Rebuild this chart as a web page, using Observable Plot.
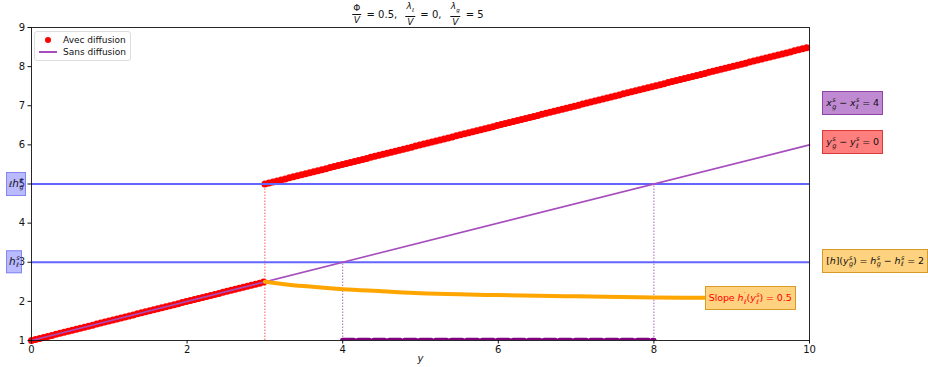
<!DOCTYPE html>
<html>
<head>
<meta charset="utf-8">
<script src="https://cdn.jsdelivr.net/npm/d3@7"></script>
<script src="https://cdn.jsdelivr.net/npm/@observablehq/plot@0.6"></script>
<style>
  html, body { margin: 0; padding: 0; background: white; }
  #wrap { position: relative; width: 928px; height: 367px; font-family: "DejaVu Sans", sans-serif; }
  .ov { position: absolute; white-space: nowrap; font-family: "DejaVu Sans", sans-serif; color: #111; }
  .title { font-size: 10px; transform: translateX(-50%); display: flex; align-items: center; gap: 0; }
  .frac { display: inline-flex; flex-direction: column; align-items: center; vertical-align: middle; font-size: 9px; line-height: 9px; margin: 0 2px; }
  .frac > span:first-child { border-bottom: 0.8px solid #111; padding: 0 1px 1px 1px; }
  .frac > span:last-child { padding-top: 1px; font-style: italic; }
  .ss { display: inline-flex; flex-direction: column; vertical-align: middle; font-size: 6.5px; line-height: 6.5px; font-style: italic; margin-left: 0.5px; }
  .box { font-size: 9.5px; padding: 4px 3px; border: 1px solid; transform: translateY(-50%); line-height: 13px; letter-spacing: -0.1px; }
  .legend { border: 1px solid #ddd; border-radius: 3px; background: rgba(255,255,255,0.85); font-size: 9px; padding: 2px 4px 2px 4px; line-height: 12px; }
  .legend .row { display: flex; align-items: center; }
  .legend .sw { width: 18px; height: 12px; position: relative; margin-right: 6px; }
</style>
</head>
<body>
<div id="wrap"></div>
<script>
// ---- data ----
const avecY = [0, 3, 3, 10];          // "Avec diffusion" dotted segments (y)
const avecH = [1, 2.5, 5, 8.5];       // heights
const avecSeg = [0, 0, 1, 1];         // segment id

const sansY = [0, 10];                // "Sans diffusion" line
const sansH = [1, 6];

const slopeY = [3, 3.25, 3.5, 4, 4.5, 5, 5.5, 6, 7, 8, 8.65];
const slopeH = [2.5, 2.44, 2.39, 2.31, 2.26, 2.21, 2.18, 2.16, 2.13, 2.10, 2.09];

const hLevels = [3, 5];               // blue horizontal lines

const redVX = [3];  const redVTop = [5];
const purpleVX = [4, 8]; const purpleVTop = [3, 5];

const dashY = [4, 8]; const dashH = [1, 1];

const xTicks = [0, 2, 4, 6, 8, 10];
const yTicks = [1, 2, 3, 4, 5, 6, 7, 8, 9];

const legendLabels = ["Avec diffusion", "Sans diffusion"];

function ss(sup, sub) { return `<span class="ss"><span>${sup}</span><span>${sub}</span></span>`; }
const noteHtml = [
  `<i>x</i>${ss("s","g")} − <i>x</i>${ss("s","ℓ")} = 4`,
  `<i>y</i>${ss("s","g")} − <i>y</i>${ss("s","ℓ")} = 0`,
  `[<i>h</i>](<i>y</i>${ss("s","g")}) = <i>h</i>${ss("s","g")} − <i>h</i>${ss("s","ℓ")} = 2`,
  `Slope <i>h</i>${ss("′","ℓ")}(<i>y</i>${ss("s","ℓ")}) = 0.5`,
  `<i style="font-size:8px">ℓ</i><i>h</i>${ss("s","g")}`,
  `<i>h</i>${ss("s","ℓ")}`
];
const noteX = [10.17, 10.17, 10.17, 8.66, -0.32, -0.32];
const noteH = [7.05, 6.05, 3.03, 2.07, 5, 3];
const noteKind = ["purple", "red", "orange", "slope", "blue", "blue"];

// ---- styles ----
const boxStyle = {
  purple: {bg: "rgba(150,60,180,0.6)", border: "rgba(120,40,150,0.7)", color: "#111"},
  red:    {bg: "rgba(255,40,40,0.6)",  border: "rgba(200,30,30,0.7)",  color: "#111"},
  orange: {bg: "rgba(255,165,0,0.5)",  border: "rgba(200,130,0,0.7)",  color: "#111"},
  slope:  {bg: "rgb(255,210,128)",     border: "rgba(200,130,0,0.7)",  color: "#f00"},
  blue:   {bg: "rgba(90,90,255,0.42)", border: "rgba(80,80,230,0.5)",  color: "#111"}
};

const avec = avecY.map((y, i) => ({y, h: avecH[i], s: avecSeg[i]}));
const sans = sansY.map((y, i) => ({y, h: sansH[i]}));
const slope = slopeY.map((y, i) => ({y, h: slopeH[i]}));
const dash = dashY.map((y, i) => ({y, h: dashH[i]}));

const plot = Plot.plot({
  width: 928, height: 367,
  marginLeft: 31, marginRight: 119, marginTop: 27, marginBottom: 27,
  style: {fontFamily: "DejaVu Sans", fontSize: "10px", background: "white", color: "#111"},
  x: {domain: [0, 10]},
  y: {domain: [1, 9]},
  marks: [
    Plot.ruleX(redVX, {x: d => d, y1: 1, y2: (d, i) => redVTop[i], stroke: "#ff3030", strokeOpacity: 0.8, strokeWidth: 1, strokeDasharray: "1.5,1.5"}),
    Plot.ruleX(purpleVX, {x: d => d, y1: 1, y2: (d, i) => purpleVTop[i], stroke: "#9a40b0", strokeOpacity: 0.8, strokeWidth: 1, strokeDasharray: "1.5,1.5"}),
    Plot.line(avec, {x: "y", y: "h", z: "s", stroke: "red", strokeWidth: 7, strokeDasharray: "0,4.2", strokeLinecap: "round"}),
    Plot.ruleY(hLevels, {stroke: "#6464ff", strokeWidth: 2}),
    Plot.line(sans, {x: "y", y: "h", stroke: "#a64dbd", strokeWidth: 1.6}),
    Plot.line(slope, {x: "y", y: "h", stroke: "#ffa500", strokeWidth: 4, curve: "monotone-x"}),
    Plot.line(dash, {x: "y", y: "h", stroke: "#800080", strokeWidth: 5.5, strokeDasharray: "11,4.5", clip: "frame"}),
    Plot.frame({stroke: "#111", strokeWidth: 0.9}),
    Plot.axisX({ticks: xTicks, tickSize: 3.5, tickPadding: 2, label: null, tickFormat: d => String(d)}),
    Plot.axisY({ticks: yTicks, tickSize: 3.5, tickPadding: 3, label: null}),
    Plot.text(["y"], {text: d => d, frameAnchor: "bottom", dy: 21, fontStyle: "italic", fontSize: 10})
  ]
});

const wrap = document.getElementById("wrap");
wrap.appendChild(plot);
const sx = plot.scale("x"), sy = plot.scale("y");

// title
const title = document.createElement("div");
title.className = "ov title";
title.style.left = sx.apply(5) - 3 + "px";
title.style.top = "2px";
title.innerHTML = `<span class="frac"><span>Φ</span><span>V</span></span>&nbsp;= 0.5,&nbsp;&nbsp;<span class="frac"><span><i>λ<sub style="font-size:5.5px">ℓ</sub></i></span><span>V</span></span>&nbsp;= 0,&nbsp;&nbsp;<span class="frac"><span><i>λ<sub style="font-size:5.5px">g</sub></i></span><span>V</span></span>&nbsp;= 5`;
wrap.appendChild(title);

// legend
const legend = document.createElement("div");
legend.className = "ov legend";
legend.style.left = sx.apply(0) + 3 + "px";
legend.style.top = sy.apply(9) + 4 + "px";
legend.innerHTML =
  `<div class="row"><div class="sw"><div style="position:absolute;left:6px;top:3px;width:6px;height:6px;border-radius:50%;background:red"></div></div>${legendLabels[0]}</div>` +
  `<div class="row"><div class="sw"><div style="position:absolute;left:0;top:5px;width:18px;height:1.6px;background:#a64dbd"></div></div>${legendLabels[1]}</div>`;
wrap.appendChild(legend);

// annotations
noteHtml.forEach((html, i) => {
  const st = boxStyle[noteKind[i]];
  const d = document.createElement("div");
  d.className = "ov box";
  d.style.left = sx.apply(noteX[i]) + "px";
  d.style.top = sy.apply(noteH[i]) + "px";
  d.style.background = st.bg;
  d.style.borderColor = st.border;
  d.style.color = st.color;
  if (noteKind[i] === "blue") { d.style.padding = "4px 2px"; d.style.fontSize = "10.5px"; }
  d.innerHTML = html;
  wrap.appendChild(d);
});
</script>
</body>
</html>
